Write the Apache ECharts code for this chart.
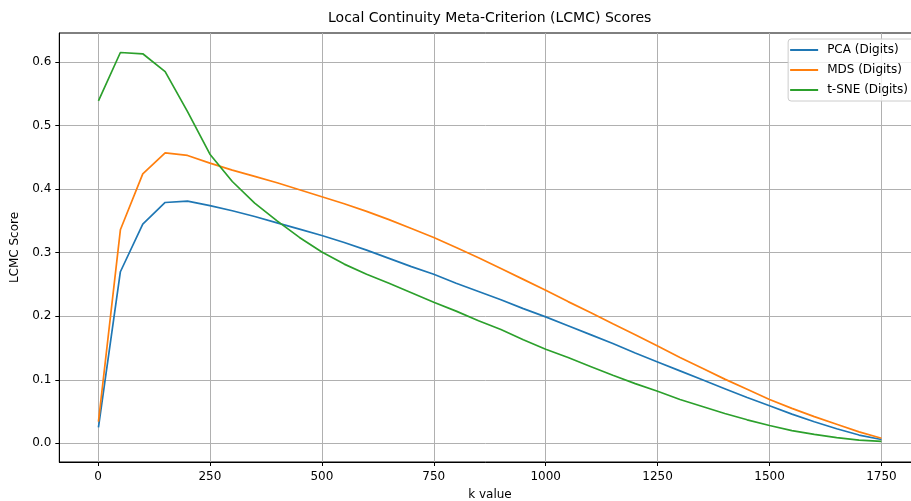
<!DOCTYPE html>
<html>
<head>
<meta charset="utf-8">
<script src="https://cdn.jsdelivr.net/npm/echarts@6/dist/echarts.min.js"></script>
<style>
  html, body { margin: 0; padding: 0; background: #ffffff; }
  #chart { width: 911px; height: 501px; }
</style>
</head>
<body>
<div id="chart"></div>
<script>
// Neighbourhood sizes k
const kValues = [1, 50, 100, 150, 200, 250, 300, 350, 400, 450, 500, 550, 600, 650, 700,
  750, 800, 850, 900, 950, 1000, 1050, 1100, 1150, 1200, 1250, 1300, 1350, 1400, 1450,
  1500, 1550, 1600, 1650, 1700, 1750];

// LCMC score per method
const pcaScores = [0.025, 0.270, 0.345, 0.379, 0.381, 0.374, 0.366, 0.357, 0.347, 0.337,
  0.327, 0.316, 0.304, 0.291, 0.278, 0.266, 0.252, 0.239, 0.226, 0.212,
  0.199, 0.185, 0.171, 0.157, 0.142, 0.128, 0.114, 0.100, 0.086, 0.072,
  0.059, 0.046, 0.034, 0.023, 0.013, 0.006];

const mdsScores = [0.034, 0.336, 0.424, 0.457, 0.453, 0.441, 0.430, 0.420, 0.410, 0.399,
  0.388, 0.377, 0.365, 0.352, 0.338, 0.324, 0.308, 0.292, 0.275, 0.258,
  0.241, 0.223, 0.206, 0.188, 0.171, 0.153, 0.135, 0.118, 0.101, 0.085,
  0.069, 0.055, 0.042, 0.030, 0.018, 0.008];

const tsneScores = [0.539, 0.615, 0.613, 0.585, 0.522, 0.455, 0.412, 0.378, 0.350, 0.324,
  0.301, 0.282, 0.266, 0.252, 0.237, 0.222, 0.208, 0.193, 0.179, 0.163,
  0.148, 0.135, 0.121, 0.107, 0.094, 0.082, 0.069, 0.058, 0.047, 0.037,
  0.028, 0.020, 0.014, 0.009, 0.005, 0.003];

const seriesNames = ['PCA (Digits)', 'MDS (Digits)', 't-SNE (Digits)'];
const xTicks = [0, 250, 500, 750, 1000, 1250, 1500, 1750];
const yTicks = [0.0, 0.1, 0.2, 0.3, 0.4, 0.5, 0.6];

const FONT = 'DejaVu Sans';
const colors = ['#1f77b4', '#ff7f0e', '#2ca02c'];

function pairs(ys) { return kValues.map((k, i) => [k, ys[i]]); }

const chart = echarts.init(document.getElementById('chart'), null, { renderer: 'canvas' });

chart.setOption({
  animation: false,
  backgroundColor: '#ffffff',
  color: colors,
  title: {
    text: 'Local Continuity Meta-Criterion (LCMC) Scores',
    left: 489.7,
    textAlign: 'center',
    top: 11,
    padding: 0,
    textStyle: { fontFamily: FONT, fontSize: 14, fontWeight: 'normal', color: '#000' }
  },
  // the plot box runs slightly past the right edge of the canvas
  grid: {
    left: 59.3, top: 33, width: 861.3, height: 429,
    outerBoundsMode: 'none',
    containLabel: false,
    show: true, borderColor: '#000', borderWidth: 1, backgroundColor: 'transparent'
  },
  legend: {
    orient: 'vertical',
    right: -3, top: 39,
    padding: [4, 6, 4, 2],
    itemGap: 6,
    itemWidth: 28, itemHeight: 2,
    icon: 'rect',
    backgroundColor: 'rgba(255,255,255,0.8)',
    borderColor: '#cccccc', borderWidth: 1, borderRadius: 3,
    textStyle: { fontFamily: FONT, fontSize: 12, color: '#000', lineHeight: 14, padding: [0, 0, 0, 4] },
    data: seriesNames
  },
  xAxis: {
    type: 'value',
    min: -86.45, max: 1837.45,
    name: 'k value',
    nameLocation: 'middle',
    nameGap: 27,
    nameTextStyle: { fontFamily: FONT, fontSize: 12, color: '#000' },
    axisLine: { show: true, onZero: false, lineStyle: { color: '#000', width: 1 } },
    axisTick: { show: true, length: 4, customValues: xTicks, lineStyle: { color: '#000' } },
    axisLabel: { customValues: xTicks, margin: 9, fontFamily: FONT, fontSize: 12, color: '#000',
      formatter: v => String(Math.round(v)) },
    splitLine: { show: true, customValues: xTicks, lineStyle: { color: '#b0b0b0', width: 1 } }
  },
  yAxis: {
    type: 'value',
    min: -0.0294, max: 0.6457,
    name: 'LCMC Score',
    nameLocation: 'middle',
    nameGap: 34,
    nameTextStyle: { fontFamily: FONT, fontSize: 12, color: '#000' },
    axisLine: { show: true, onZero: false, lineStyle: { color: '#000', width: 1 } },
    axisTick: { show: true, length: 4, customValues: yTicks, lineStyle: { color: '#000' } },
    axisLabel: { customValues: yTicks, margin: 8, fontFamily: FONT, fontSize: 12, color: '#000',
      formatter: v => v.toFixed(1) },
    splitLine: { show: true, customValues: yTicks, lineStyle: { color: '#b0b0b0', width: 1 } }
  },
  series: [pcaScores, mdsScores, tsneScores].map((ys, i) => ({
    name: seriesNames[i],
    type: 'line',
    data: pairs(ys),
    symbol: 'none',
    lineStyle: { width: 1.7, color: colors[i] },
    itemStyle: { color: colors[i] },
    emphasis: { disabled: true }
  }))
});
</script>
</body>
</html>
